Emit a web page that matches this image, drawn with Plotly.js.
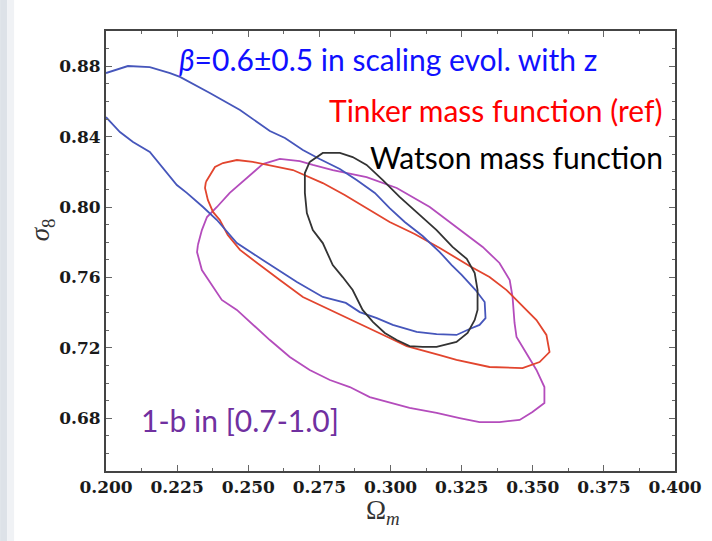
<!DOCTYPE html>
<html>
<head>
<meta charset="utf-8">
<script src="https://cdn.plot.ly/plotly-3.0.1.min.js"></script>
<style>html,body{margin:0;padding:0;background:#fff;}#chart{width:712px;height:541px;}</style>
</head>
<body>
<div id="chart"></div>
<script>
// Blue contour: beta = 0.6 ± 0.5 in scaling evolution with z (open, clipped at left axis)
const blueOm = [0.2000,0.2077,0.2154,0.2225,0.2260,0.2365,0.2471,0.2576,0.2629,0.2692,0.2751,0.2822,0.2881,0.2945,0.2997,0.3050,0.3113,0.3173,0.3215,0.3250,0.3299,0.3331,0.3334,0.3313,0.3278,0.3232,0.3162,0.3092,0.3008,0.2952,0.2892,0.2843,0.2762,0.2671,0.2551,0.2460,0.2390,0.2341,0.2284,0.2249,0.2154,0.2095,0.2049,0.2000];
const blueS8 = [0.8761,0.8801,0.8795,0.8761,0.8739,0.8648,0.8551,0.8432,0.8392,0.8324,0.8273,0.8216,0.8153,0.8080,0.7994,0.7915,0.7835,0.7744,0.7670,0.7614,0.7528,0.7460,0.7369,0.7330,0.7307,0.7273,0.7278,0.7290,0.7330,0.7369,0.7403,0.7455,0.7489,0.7574,0.7699,0.7795,0.7926,0.8000,0.8080,0.8125,0.8313,0.8369,0.8426,0.8511];

// Red contour: Tinker mass function (ref)
const redOm = [0.2351,0.2383,0.2411,0.2460,0.2516,0.2586,0.2657,0.2681,0.2762,0.2839,0.2892,0.2997,0.3085,0.3173,0.3278,0.3348,0.3408,0.3443,0.3513,0.3548,0.3559,0.3524,0.3464,0.3348,0.3232,0.3173,0.3057,0.2997,0.2938,0.2846,0.2776,0.2692,0.2611,0.2530,0.2471,0.2428,0.2400,0.2376,0.2358,0.2348,0.2351];
const redS8 = [0.8142,0.8227,0.8250,0.8267,0.8256,0.8233,0.8210,0.8193,0.8136,0.8068,0.8017,0.7915,0.7847,0.7767,0.7665,0.7602,0.7528,0.7472,0.7358,0.7273,0.7176,0.7119,0.7085,0.7091,0.7131,0.7159,0.7210,0.7256,0.7301,0.7375,0.7426,0.7489,0.7585,0.7682,0.7756,0.7841,0.7926,0.7972,0.8040,0.8108,0.8142];

// Black contour: Watson mass function
const blackOm = [0.2716,0.2762,0.2822,0.2867,0.2916,0.2973,0.3032,0.3103,0.3162,0.3218,0.3268,0.3296,0.3306,0.3306,0.3296,0.3271,0.3232,0.3162,0.3113,0.3067,0.3022,0.2980,0.2938,0.2902,0.2867,0.2832,0.2797,0.2762,0.2727,0.2706,0.2699,0.2699,0.2716];
const blackS8 = [0.8256,0.8307,0.8307,0.8284,0.8239,0.8153,0.8057,0.7955,0.7869,0.7773,0.7705,0.7625,0.7528,0.7415,0.7358,0.7284,0.7233,0.7205,0.7205,0.7210,0.7244,0.7284,0.7347,0.7415,0.7528,0.7602,0.7670,0.7795,0.7869,0.7966,0.8080,0.8193,0.8256];

// Purple contour: 1-b in [0.7-1.0]
const purpleOm = [0.2323,0.2337,0.2355,0.2390,0.2435,0.2488,0.2551,0.2611,0.2681,0.2727,0.2797,0.2916,0.3022,0.3138,0.3232,0.3324,0.3383,0.3419,0.3429,0.3436,0.3443,0.3478,0.3513,0.3541,0.3541,0.3499,0.3454,0.3383,0.3313,0.3243,0.3162,0.3067,0.2987,0.2927,0.2857,0.2787,0.2716,0.2646,0.2576,0.2516,0.2460,0.2407,0.2376,0.2337,0.2320,0.2323];
const purpleS8 = [0.7784,0.7869,0.7943,0.8000,0.8080,0.8153,0.8244,0.8273,0.8261,0.8239,0.8210,0.8170,0.8108,0.8000,0.7886,0.7773,0.7682,0.7585,0.7489,0.7341,0.7261,0.7170,0.7074,0.6977,0.6886,0.6835,0.6790,0.6778,0.6778,0.6801,0.6830,0.6858,0.6892,0.6920,0.6977,0.7017,0.7074,0.7148,0.7244,0.7330,0.7415,0.7472,0.7545,0.7642,0.7744,0.7784];

// Labels
const labelBlue = "<i>β</i>=0.6±0.5 in scaling evol. with z";
const labelRed = "Tinker mass function (ref)";
const labelBlack = "Watson mass function";
const labelPurple = "1-b in [0.7-1.0]";
const xTitle = "Ω<sub><i>m</i></sub>";
const yTitle = "<i>σ</i><sub>8</sub>";

const lw = 1.8;
const traces = [
  {x: purpleOm, y: purpleS8, mode: 'lines', line: {color: '#b44cbc', width: lw}},
  {x: redOm, y: redS8, mode: 'lines', line: {color: '#e2452e', width: lw}},
  {x: blueOm, y: blueS8, mode: 'lines', line: {color: '#4656bb', width: lw}},
  {x: blackOm, y: blackS8, mode: 'lines', line: {color: '#333333', width: lw}}
];

const tickFont = {family: 'DejaVu Serif', size: 17, color: '#1a1a1a', weight: 'bold'};
const annFont = (c) => ({family: 'Lato', size: 30, color: c});
const titleFont = {family: 'Liberation Serif', size: 27, color: '#333'};

const layout = {
  width: 712, height: 541,
  margin: {l: 106, r: 37, t: 31, b: 70, pad: 0},
  paper_bgcolor: '#ffffff', plot_bgcolor: '#ffffff',
  showlegend: false,
  xaxis: {
    range: [0.2, 0.4], tick0: 0.2, dtick: 0.025, tickformat: '.3f',
    ticks: 'inside', ticklen: 6, tickwidth: 1, tickcolor: '#666',
    minor: {dtick: 0.0125, ticks: 'inside', ticklen: 3, tickcolor: '#666'},
    showline: true, linecolor: '#444', linewidth: 2, mirror: 'allticks',
    showgrid: false, zeroline: false, tickfont: tickFont
  },
  yaxis: {
    range: [0.65, 0.90], tick0: 0.68, dtick: 0.04, tickformat: '.2f',
    ticks: 'inside', ticklen: 6, tickwidth: 1, tickcolor: '#666',
    minor: {dtick: 0.01, ticks: 'inside', ticklen: 3, tickcolor: '#666'},
    showline: true, linecolor: '#444', linewidth: 2, mirror: 'allticks',
    showgrid: false, zeroline: false, tickfont: tickFont
  },
  shapes: [
    {type: 'rect', xref: 'paper', yref: 'paper', x0: -0.1861, x1: -0.1738, y0: -0.16, y1: 1.08, line: {width: 0}, fillcolor: '#dde2e8', layer: 'below'},
    {type: 'rect', xref: 'paper', yref: 'paper', x0: -0.1738, x1: -0.1615, y0: -0.16, y1: 1.08, line: {width: 0}, fillcolor: '#f0f2f5', layer: 'below'}
  ],
  annotations: [
    {text: labelBlue, x: 0.2250, y: 0.8840, xref: 'x', yref: 'y', xanchor: 'left', yanchor: 'middle', showarrow: false, font: annFont('#1010ff')},
    {text: labelRed, x: 0.3966, y: 0.8552, xref: 'x', yref: 'y', xanchor: 'right', yanchor: 'middle', showarrow: false, font: annFont('#ff0000')},
    {text: labelBlack, x: 0.3966, y: 0.8282, xref: 'x', yref: 'y', xanchor: 'right', yanchor: 'middle', showarrow: false, font: annFont('#000000')},
    {text: labelPurple, x: 0.2115, y: 0.6792, xref: 'x', yref: 'y', xanchor: 'left', yanchor: 'middle', showarrow: false, font: annFont('#7030a0')},
    {text: xTitle, x: 0.2975, y: -0.093, xref: 'x', yref: 'paper', xanchor: 'center', yanchor: 'middle', showarrow: false, font: titleFont},
    {text: yTitle, x: -0.112, y: 0.7869, xref: 'paper', yref: 'y', xanchor: 'center', yanchor: 'middle', textangle: -90, showarrow: false, font: titleFont}
  ]
};

Plotly.newPlot('chart', traces, layout, {displayModeBar: false, staticPlot: true});
</script>
</body>
</html>
